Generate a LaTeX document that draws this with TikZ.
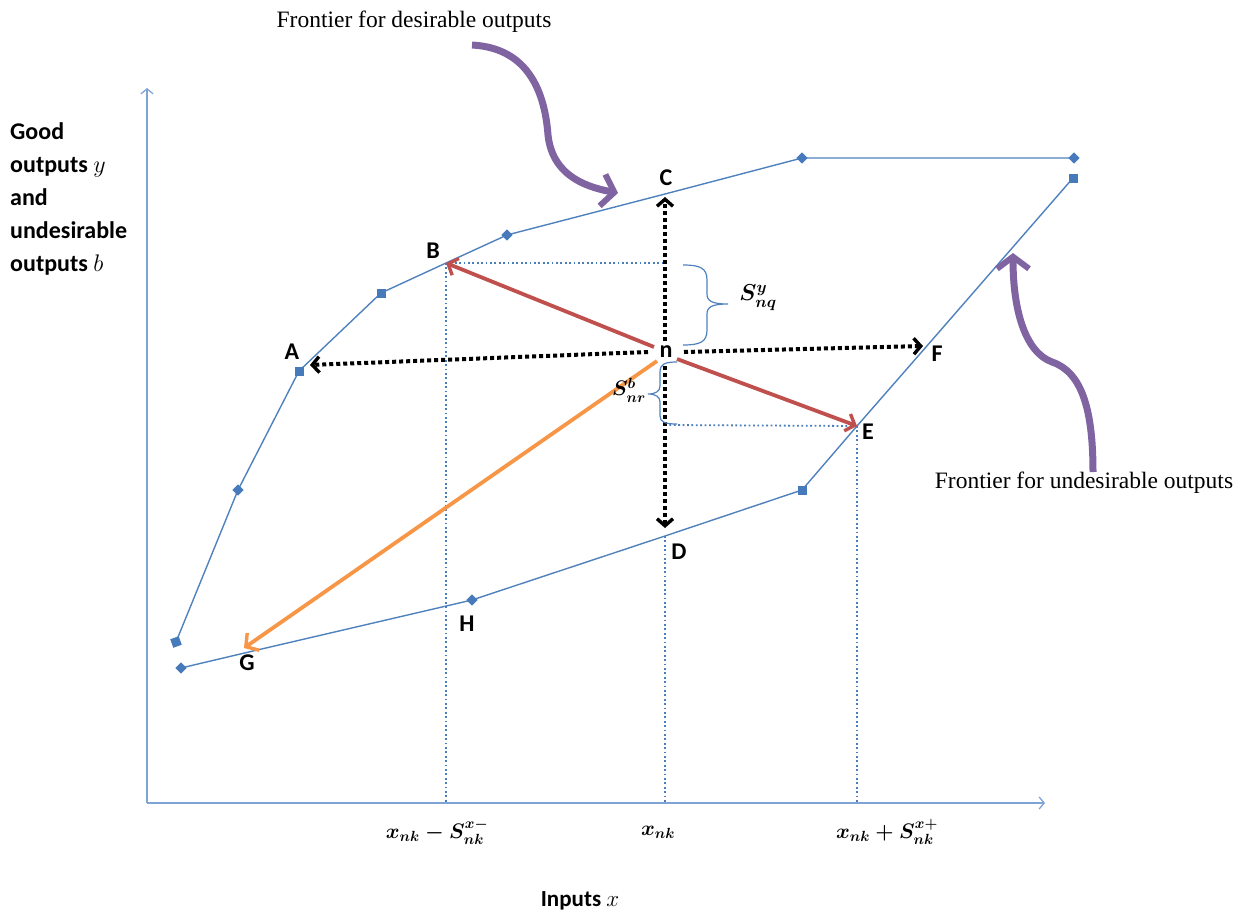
\documentclass[tikz,border=0pt]{standalone}
\usepackage{fix-cm}
\usepackage{amsmath}
\usepackage{bm}
\usepackage{fontspec}
\setmainfont{Liberation Serif}
\newfontfamily\lblfont{Carlito}
\usetikzlibrary{arrows.meta,calc}
\definecolor{fblue}{RGB}{79,129,189}
\definecolor{mblue}{RGB}{70,122,186}
\definecolor{axblue}{RGB}{125,163,215}
\definecolor{gblue}{RGB}{74,126,187}
\definecolor{eRed}{RGB}{192,80,77}
\definecolor{eOrange}{RGB}{247,150,70}
\definecolor{ePurple}{RGB}{128,100,162}
\begin{document}
\begin{tikzpicture}[x=1pt,y=-1pt,
  axisline/.style={draw=axblue,line width=1.3pt,-{Straight Barb[length=5pt,width=12pt]}},
  frontier/.style={draw=fblue,line width=1.4pt},
  sqmark/.style={fill=mblue,inner sep=0pt,minimum size=9pt,shape=rectangle},
  dimark/.style={fill=mblue,inner sep=0pt,minimum size=8pt,shape=rectangle,rotate=45},
  guide/.style={draw=gblue,line width=1.8pt,dash pattern=on 1.8pt off 2.6pt},
  blkarrow/.style={draw=black,line width=4pt,dash pattern=on 4pt off 3pt,
     -{Straight Barb[length=7pt,width=16pt,line width=3.4pt]}},
  redarrow/.style={draw=eRed,line width=3.8pt,-{Straight Barb[length=8pt,width=18pt,line width=3.4pt]}},
  orarrow/.style={draw=eOrange,line width=3.8pt,-{Straight Barb[length=9pt,width=21pt,line width=3.4pt]}},
  purparrow/.style={draw=ePurple,line width=7pt,-{Straight Barb[length=12pt,width=32pt,line width=6pt]}},
  bracepath/.style={draw=fblue,line width=1.2pt},
  ptlbl/.style={font=\lblfont\bfseries\fontsize{24}{28}\selectfont,inner sep=0pt},
  mathlbl/.style={font=\boldmath\fontsize{21}{25}\selectfont,inner sep=0pt},
  serif/.style={font=\fontsize{23.5}{27}\selectfont,inner sep=0pt}
]
\useasboundingbox (0,0) rectangle (1242,913);

% axes
\coordinate (O) at (147,803);
\coordinate (Ytop) at (147,88);
\coordinate (Xend) at (1045,803);
\draw[axisline] (O) -- (Ytop);
\draw[axisline] (O) -- (Xend);

% desirable frontier points
\coordinate (u1) at (176,642);
\coordinate (u2) at (238,490);
\coordinate (u3) at (299,371);
\coordinate (u4) at (381,293);
\coordinate (pB) at (446,263);
\coordinate (u5) at (507,235);
\coordinate (pC) at (665,194);
\coordinate (u6) at (802,158);
\coordinate (u7) at (1074,158);
% undesirable frontier points
\coordinate (l1) at (181,668);
\coordinate (pG) at (253,651);
\coordinate (l2) at (472,600);
\coordinate (pD) at (665,536);
\coordinate (l3) at (802,490);
\coordinate (pE) at (857,426);
\coordinate (pF) at (926,347);
\coordinate (l4) at (1073,178);

% guides
\coordinate (Bx) at (446,803);
\coordinate (Dx) at (665,803);
\coordinate (Ex) at (857,803);
\coordinate (By) at (665,263);
\coordinate (Ey) at (665,425);
\draw[guide] (pB) -- (Bx);
\draw[guide] (pB) -- (By);
\draw[guide] (pD) -- (Dx);
\draw[guide] (Ey) -- (pE);
\draw[guide] (pE) -- (Ex);

% frontiers
\draw[frontier] (u1) -- (u2) -- (u3) -- (u4) -- (pB) -- (u5) -- (pC) -- (u6) -- (u7);
\draw[frontier] (l1) -- (pG) -- (l2) -- (pD) -- (l3) -- (pE) -- (pF) -- (l4);

% markers
\foreach \p in {u3,u4,l3,l4} \node[sqmark] (m\p) at (\p) {};
\node[sqmark,rotate=20] (mu1) at (u1) {};
\foreach \p in {u2,u5,u6,u7,l1,l2} \node[dimark] (m\p) at (\p) {};

% point n
\node[ptlbl] (n) at (666,352) {n};
\coordinate (nL) at (648,352);
\coordinate (nR) at (684,352);
\coordinate (nU) at (665,341);
\coordinate (nD) at (665,366);
\coordinate (tA) at (310,365);
\coordinate (tF) at (923,346);
\coordinate (tC) at (665,197);
\coordinate (tD) at (665,528);
\draw[blkarrow] (nU) -- (tC);
\draw[blkarrow] (nD) -- (tD);
\draw[blkarrow] (nL) -- (tA);
\draw[blkarrow] (nR) -- (tF);

% red and orange arrows
\coordinate (nB) at (654,347);
\coordinate (nE) at (677,359);
\coordinate (nG) at (657,361);
\coordinate (tG) at (244,648);
\draw[redarrow] (nB) -- (pB);
\draw[redarrow] (nE) -- (pE);
\draw[orarrow] (nG) -- (tG);

% braces
\coordinate (b1s) at (683,265);
\coordinate (b1e) at (683,345);
\draw[bracepath] (b1s) .. controls (700,265) and (707,268) .. (707,280) -- (707,294)
   .. controls (707,301) and (712,304) .. (728,304) .. controls (712,304) and (707,307) .. (707,314)
   -- (707,330) .. controls (707,342) and (700,345) .. (b1e);
\coordinate (b2s) at (677,362);
\coordinate (b2e) at (677,424);
\draw[bracepath] (b2s) .. controls (665,362) and (660,364) .. (660,372) -- (660,386)
   .. controls (660,391) and (656,394) .. (648,394) .. controls (656,394) and (660,397) .. (660,402)
   -- (660,416) .. controls (660,422) and (665,424) .. (b2e);
\node[mathlbl,font=\boldmath\fontsize{23}{27}\selectfont] (Sy) at (758,298) {$S^{y}_{nq}$};
\node[mathlbl,anchor=east] (Sb) at (646,390) {$S^{b}_{nr}$};

% point labels
\node[ptlbl] (lA) at (292,352) {A};
\node[ptlbl] (lB) at (433,251) {B};
\node[ptlbl] (lC) at (666,178) {C};
\node[ptlbl] (lD) at (679,552) {D};
\node[ptlbl] (lE) at (868,432) {E};
\node[ptlbl] (lF) at (937,354) {F};
\node[ptlbl] (lG) at (247,663) {G};
\node[ptlbl] (lH) at (467,624) {H};

% axis labels
\node[ptlbl,align=left,anchor=north west,font=\lblfont\bfseries\fontsize{24}{33}\selectfont] (ylab) at (10,122)
  {Good\\outputs $y$\\and\\undesirable\\outputs $b$};
\node[ptlbl,font=\lblfont\bfseries\fontsize{23}{27}\selectfont] (xlab) at (580,901) {Inputs $x$};
\node[mathlbl] (x1) at (437,832) {$x_{nk}-S^{x-}_{nk}$};
\node[mathlbl] (x2) at (658,832) {$x_{nk}$};
\node[mathlbl] (x3) at (887,832) {$x_{nk}+S^{x+}_{nk}$};

% frontier notes
\node[serif] (fd) at (414,22) {Frontier for desirable outputs};
\node[serif] (fu) at (1084,483) {Frontier for undesirable outputs};
\coordinate (pa1) at (472,45);
\coordinate (pa2) at (548,135);
\coordinate (pa3) at (618,193);
\draw[purparrow] (pa1) .. controls (530,48) and (545,95) .. (pa2) .. controls (552,172) and (580,186) .. (pa3);
\coordinate (pb1) at (1093,472);
\coordinate (pb2) at (1052,362);
\coordinate (pb3) at (1013,253);
\draw[purparrow] (pb1) .. controls (1093,410) and (1082,372) .. (pb2) .. controls (1025,352) and (1013,310) .. (pb3);
\end{tikzpicture}
\end{document}
